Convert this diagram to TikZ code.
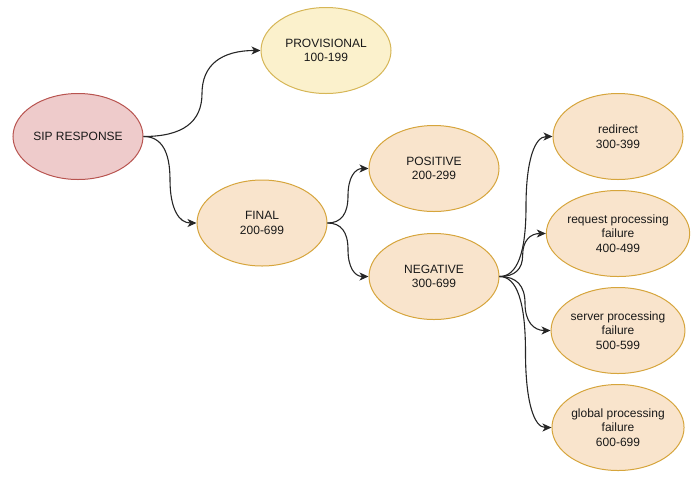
\documentclass[tikz,border=0pt]{standalone}
\usepackage{fontspec}
\setmainfont{Liberation Sans}
\usetikzlibrary{shapes.geometric,arrows.meta,calc}
\definecolor{redfill}{HTML}{EECBCB}
\definecolor{redline}{HTML}{B85450}
\definecolor{yelfill}{HTML}{FBF1CC}
\definecolor{yelline}{HTML}{D6B656}
\definecolor{orafill}{HTML}{F9E4CC}
\definecolor{oraline}{HTML}{D6A53C}
\tikzset{
  oval/.style={ellipse, minimum width=130pt, minimum height=86pt, inner sep=0pt,
    line width=1pt, align=center, text=black!90,
    font=\fontsize{12}{14.5}\selectfont},
  redoval/.style={oval, draw=redline, fill=redfill},
  yeloval/.style={oval, draw=yelline, fill=yelfill},
  oraoval/.style={oval, draw=oraline, fill=orafill},
  arr/.style={line width=1.1pt, black!85, -{Stealth[length=9pt,width=8pt,inset=2.5pt]}}
}
\newcommand{\curvelink}[2]{%
  \path (#1.east) -- (#2.west) coordinate[pos=0.5] (mid#1#2);
  \coordinate (ca#1#2) at (#1.east -| mid#1#2);
  \coordinate (cb#1#2) at (#2.west -| mid#1#2);
  \draw[arr] (#1.east)
    .. controls ($(#1.east)!2/3!(ca#1#2)$) and ($(mid#1#2)!2/3!(ca#1#2)$) .. (mid#1#2)
    .. controls ($(mid#1#2)!2/3!(cb#1#2)$) and ($(#2.west)!2/3!(cb#1#2)$) .. (#2.west);}
\begin{document}
\begin{tikzpicture}[x=1pt,y=-1pt]
\useasboundingbox (0,0) rectangle (700,480);
\node[redoval] (sip) at (78,136.5) {SIP RESPONSE};
\node[yeloval] (prov) at (326,50.5) {PROVISIONAL\\100-199};
\node[oraoval] (fin) at (262,223) {FINAL\\200-699};
\node[oraoval] (pos) at (434,168.5) {POSITIVE\\200-299};
\node[oraoval] (neg) at (434,276.5) {NEGATIVE\\300-699};
\node[oraoval] (red) at (618,136.5) {redirect\\300-399};
\node[oraoval] (req) at (618,233.5) {request processing\\failure\\400-499};
\node[oraoval] (srv) at (618,330.5) {server processing\\failure\\500-599};
\node[oraoval] (glb) at (618,427.5) {global processing\\failure\\600-699};
\curvelink{sip}{prov}
\curvelink{sip}{fin}
\curvelink{fin}{pos}
\curvelink{fin}{neg}
\curvelink{neg}{red}
\curvelink{neg}{req}
\curvelink{neg}{srv}
\curvelink{neg}{glb}
\end{tikzpicture}
\end{document}
